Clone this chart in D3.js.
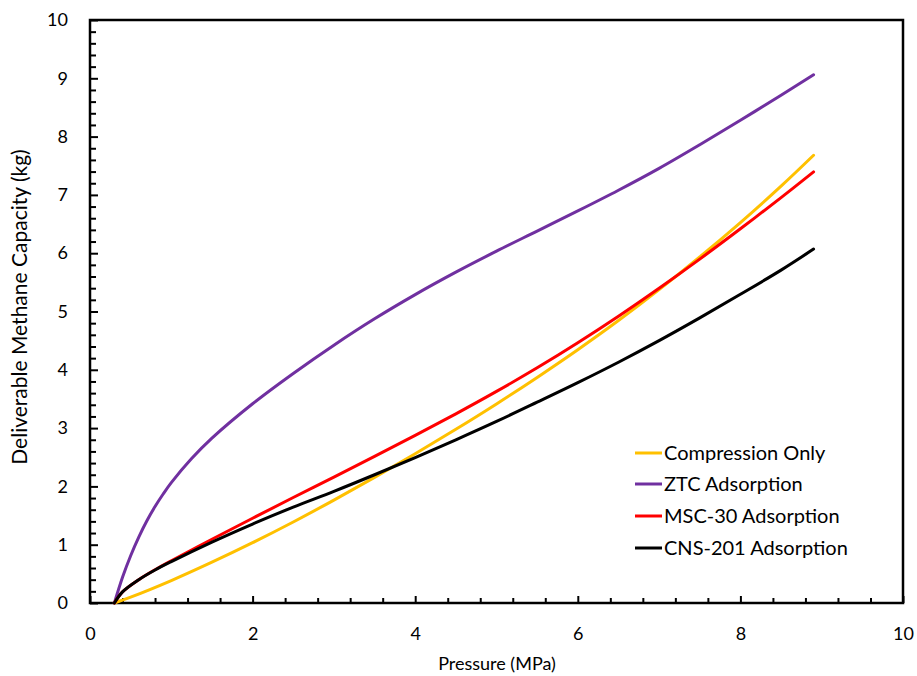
<!DOCTYPE html>
<html>
<head>
<meta charset="utf-8">
<script src="https://cdn.jsdelivr.net/npm/d3@7/dist/d3.min.js"></script>
<style>
  html, body { margin: 0; padding: 0; background: #fff; }
  svg text { font-family: Lato, "Open Sans", sans-serif; fill: #000; }
</style>
</head>
<body>
<svg id="chart" width="917" height="676"></svg>
<script>
// ---- Data ----
const seriesNames = ["Compression Only", "ZTC Adsorption", "MSC-30 Adsorption", "CNS-201 Adsorption"];
const seriesColors = ["#FFC000", "#7030A0", "#FF0000", "#000000"];

const pressureCompression = [0.3, 0.5, 1.0, 1.5, 2.0, 2.5, 3.0, 3.5, 4.0, 4.5, 5.0, 5.5, 6.0, 6.5, 7.0, 7.5, 8.0, 8.5, 8.9];
const compressionOnly     = [0, 0.10, 0.385, 0.70, 1.035, 1.39, 1.765, 2.155, 2.56, 2.98, 3.415, 3.87, 4.345, 4.845, 5.375, 5.935, 6.525, 7.15, 7.68];

const pressureZTC = [0.3, 0.4, 0.5, 0.6, 0.7, 0.8, 0.9, 1.0, 1.25, 1.5, 2.0, 2.5, 3.0, 3.5, 4.0, 4.5, 5.0, 5.5, 6.0, 6.5, 7.0, 7.5, 8.0, 8.5, 8.9];
const ztcAdsorption = [0, 0.44, 0.81, 1.13, 1.41, 1.655, 1.87, 2.065, 2.478, 2.828, 3.418, 3.938, 4.423, 4.875, 5.29, 5.675, 6.035, 6.38, 6.725, 7.08, 7.455, 7.86, 8.28, 8.71, 9.06];

const pressureCarbon = [0.3, 0.4, 0.6, 0.8, 1.0, 1.5, 2.0, 2.5, 3.0, 3.5, 4.0, 4.5, 5.0, 5.5, 6.0, 6.5, 7.0, 7.5, 8.0, 8.5, 8.9];
const msc30Adsorption  = [0, 0.19, 0.40, 0.57, 0.724, 1.094, 1.454, 1.809, 2.159, 2.514, 2.874, 3.244, 3.629, 4.034, 4.464, 4.919, 5.399, 5.899, 6.419, 6.954, 7.394];
const cns201Adsorption = [0, 0.19, 0.40, 0.566, 0.71, 1.045, 1.355, 1.645, 1.915, 2.20, 2.495, 2.80, 3.115, 3.445, 3.78, 4.13, 4.50, 4.89, 5.295, 5.71, 6.07];

const xTickValues = [0, 2, 4, 6, 8, 10];
const yTickValues = [0, 1, 2, 3, 4, 5, 6, 7, 8, 9, 10];

// ---- Layout ----
const svg = d3.select("#chart");
const plotLeft = 90, plotRight = 903, plotTop = 20, plotBottom = 603;

const x = d3.scaleLinear().domain([0, 10]).range([plotLeft, plotRight]);
const y = d3.scaleLinear().domain([0, 10]).range([plotBottom, plotTop]);

const series = [
  { name: seriesNames[0], color: seriesColors[0], xs: pressureCompression, ys: compressionOnly },
  { name: seriesNames[1], color: seriesColors[1], xs: pressureZTC, ys: ztcAdsorption },
  { name: seriesNames[2], color: seriesColors[2], xs: pressureCarbon, ys: msc30Adsorption },
  { name: seriesNames[3], color: seriesColors[3], xs: pressureCarbon, ys: cns201Adsorption }
];

// minor ticks
const xMinor = d3.range(0, 10.0001, 0.4).filter(v => Math.abs(v / 2 - Math.round(v / 2)) > 1e-6);
const yMinor = d3.range(0, 10.0001, 0.2).filter(v => Math.abs(v - Math.round(v)) > 1e-6);

const g = svg.append("g");

// x axis (ticks inward = upward)
const xAxis = g.append("g").attr("transform", `translate(0,${plotBottom})`)
  .call(d3.axisBottom(x).tickValues(xTickValues).tickSizeInner(-7).tickSizeOuter(0).tickPadding(24).tickFormat(d3.format("d")));
xAxis.select(".domain").remove();
xAxis.selectAll(".tick line").attr("stroke", "#000").attr("stroke-width", 2);
xAxis.selectAll(".tick text").attr("font-size", 18).attr("dy", "0.71em");

g.append("g").attr("transform", `translate(0,${plotBottom})`)
  .call(d3.axisBottom(x).tickValues(xMinor).tickSizeInner(-5).tickSizeOuter(0).tickFormat(""))
  .call(a => a.select(".domain").remove())
  .selectAll(".tick line").attr("stroke", "#000").attr("stroke-width", 2);

// y axis (ticks inward = rightward)
const yAxis = g.append("g").attr("transform", `translate(${plotLeft},0)`)
  .call(d3.axisLeft(y).tickValues(yTickValues).tickSizeInner(-8).tickSizeOuter(0).tickPadding(22).tickFormat(d3.format("d")));
yAxis.select(".domain").remove();
yAxis.selectAll(".tick line").attr("stroke", "#000").attr("stroke-width", 2);
yAxis.selectAll(".tick text").attr("font-size", 18);

g.append("g").attr("transform", `translate(${plotLeft},0)`)
  .call(d3.axisLeft(y).tickValues(yMinor).tickSizeInner(-6).tickSizeOuter(0).tickFormat(""))
  .call(a => a.select(".domain").remove())
  .selectAll(".tick line").attr("stroke", "#000").attr("stroke-width", 2);

// frame
g.append("rect")
  .attr("x", plotLeft).attr("y", plotTop)
  .attr("width", plotRight - plotLeft).attr("height", plotBottom - plotTop)
  .attr("fill", "none").attr("stroke", "#000").attr("stroke-width", 2.5);

// lines
const line = d3.line().curve(d3.curveCatmullRom.alpha(0.5));
series.forEach(s => {
  const pts = s.xs.map((p, i) => [x(p), y(s.ys[i])]);
  g.append("path")
    .attr("d", line(pts))
    .attr("fill", "none")
    .attr("stroke", s.color)
    .attr("stroke-width", 3)
    .attr("stroke-linecap", "round")
    .attr("stroke-linejoin", "round");
});

// axis titles
svg.append("text")
  .attr("x", 497).attr("y", 670)
  .attr("text-anchor", "middle").attr("font-size", 18)
  .text("Pressure (MPa)");

svg.append("text")
  .attr("transform", `translate(27,307) rotate(-90)`)
  .attr("text-anchor", "middle").attr("font-size", 21)
  .text("Deliverable Methane Capacity (kg)");

// legend
const legendY = [453, 484, 516, 548];
const legend = svg.append("g");
series.forEach((s, i) => {
  legend.append("line")
    .attr("x1", 635).attr("x2", 662)
    .attr("y1", legendY[i]).attr("y2", legendY[i])
    .attr("stroke", s.color).attr("stroke-width", 3);
  legend.append("text")
    .attr("x", 664).attr("y", legendY[i])
    .attr("dy", "0.35em")
    .attr("font-size", 20)
    .text(s.name);
});
</script>
</body>
</html>
